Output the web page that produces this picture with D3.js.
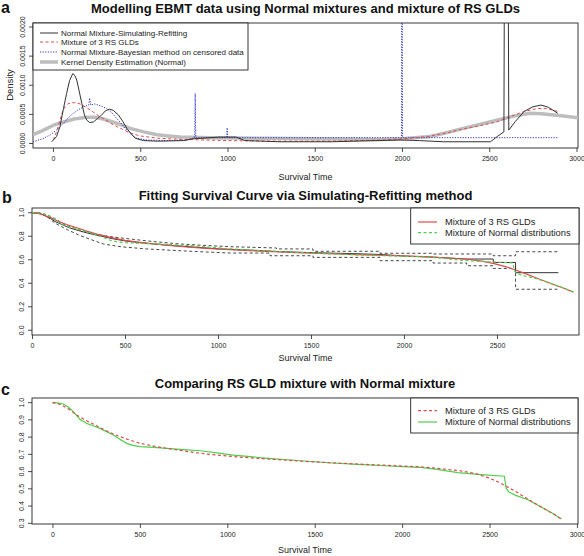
<!DOCTYPE html>
<html><head><meta charset="utf-8">
<script src="https://cdn.jsdelivr.net/npm/d3@7"></script>
<style>
body{margin:0;background:#fff;}
svg{display:block;font-family:"Liberation Sans",Arial,sans-serif;}
</style></head>
<body><svg id="chart" width="584" height="556"></svg>
<script>
// ---------- Panel a : densities ----------
const aXTicks = [0, 500, 1000, 1500, 2000, 2500, 3000];
const aYTicks = [0, 0.0005, 0.001, 0.0015, 0.002];
const aYTickLabels = ["0.0000", "0.0005", "0.0010", "0.0015", "0.0020"];
const aLegend = ["Normal Mixture-Simulating-Refitting", "Mixture of 3 RS GLDs",
  "Normal Mixture-Bayesian method on censored data", "Kernel Density Estimation (Normal)"];

const simRefit = [[-7,0.00003],[20,0.00012],[40,0.00029],[60,0.0006],[78,0.00086],[95,0.00108],[113,0.0012],[125,0.00117],[136,0.00109],[150,0.0009],[165,0.00069],[180,0.00049],[194,0.0004],[210,0.00036],[232,0.00037],[255,0.00043],[279,0.00049],[300,0.00056],[323,0.00059],[345,0.00057],[375,0.00049],[400,0.00038],[423,0.00026],[450,0.00016],[471,0.00009],[519,0.00005],[600,0.00004],[750,0.00005],[800,0.00008],[950,0.00011],[1050,0.00011],[1100,0.00005],[1300,0.00003],[1600,0.00003],[1990,0.00006],[2100,0.00005],[2239,0.00003],[2507,0.00003],[2546,0.00012],[2584,0.0002],[2590,0.006],[2605,0.006],[2612,0.00023],[2650,0.00038],[2700,0.00055],[2750,0.00063],[2797,0.00066],[2840,0.00062],[2892,0.00052]];
const gldDens = [[2,0.00006],[20,0.0002],[40,0.0004],[55,0.00055],[69,0.00063],[85,0.00068],[107,0.0007],[130,0.0007],[155,0.00068],[185,0.00063],[212,0.00058],[240,0.00052],[269,0.00046],[310,0.00039],[346,0.00032],[400,0.00024],[441,0.00018],[500,0.00013],[600,0.00009],[750,0.00007],[1000,0.00005],[1300,0.00004],[1600,0.00004],[1900,0.00006],[2000,0.00008],[2150,0.00012],[2250,0.00018],[2352,0.00025],[2450,0.00031],[2543,0.00037],[2620,0.00046],[2700,0.00055],[2774,0.0006],[2830,0.0006],[2892,0.00055]];
const bayesDens = [[-115,0.00003],[-60,0.00008],[-15,0.00015],[20,0.00023],[61,0.00035],[90,0.00045],[118,0.00052],[145,0.00058],[175,0.00063],[205,0.00066],[210,0.00078],[216,0.00066],[240,0.00068],[270,0.00065],[308,0.0006],[340,0.00052],[365,0.00043],[395,0.00033],[423,0.00023],[450,0.00015],[480,0.00009],[538,0.00006],[650,0.00005],[765,0.00006],[812,0.0001],[815,0.00086],[818,0.0001],[995,0.0001],[998,0.00027],[1001,0.0001],[1997,0.0001],[2000,0.005],[2003,0.0001],[2892,0.0001]];
const kdeDens = [[-115,0.00015],[-60,0.00022],[0,0.00031],[61,0.00037],[120,0.00042],[194,0.00045],[240,0.00045],[289,0.00042],[350,0.00036],[400,0.00031],[442,0.00026],[520,0.0002],[596,0.00015],[660,0.00013],[730,0.00011],[900,0.0001],[1200,0.00009],[1500,0.00008],[1874,0.00007],[2000,0.00008],[2161,0.00012],[2260,0.00019],[2352,0.00026],[2450,0.00033],[2543,0.0004],[2640,0.00047],[2734,0.00052],[2800,0.00051],[2900,0.00048],[3010,0.00044]];

// ---------- Panel b / c : survival ----------
const bXTicks = [0, 500, 1000, 1500, 2000, 2500];
const bYTicks = [0, 0.2, 0.4, 0.6, 0.8, 1.0];
const cXTicks = [0, 500, 1000, 1500, 2000, 2500, 3000];
const cYTicks = [0.3, 0.4, 0.5, 0.6, 0.7, 0.8, 0.9, 1.0];
const survLegendB = ["Mixture of 3 RS GLDs", "Mixture of Normal distributions"];

const gldSurv = [[0,1.0],[30,0.995],[61,0.981],[100,0.958],[138,0.929],[185,0.9],[233,0.876],[290,0.846],[348,0.818],[420,0.79],[501,0.764],[580,0.748],[654,0.735],[750,0.72],[845,0.706],[940,0.696],[1035,0.687],[1200,0.675],[1419,0.661],[1600,0.651],[1744,0.644],[1900,0.637],[2004,0.632],[2107,0.627],[2220,0.617],[2337,0.604],[2420,0.588],[2490,0.565],[2550,0.54],[2595,0.515],[2650,0.484],[2719,0.441],[2800,0.392],[2860,0.358],[2911,0.325]];
const normSurv = [[0,1.0],[30,0.999],[61,0.992],[90,0.975],[109,0.958],[135,0.93],[157,0.903],[195,0.88],[233,0.866],[271,0.851],[310,0.832],[348,0.812],[386,0.787],[424,0.764],[460,0.752],[501,0.745],[580,0.74],[654,0.735],[750,0.728],[845,0.721],[940,0.709],[1035,0.696],[1200,0.68],[1419,0.663],[1600,0.65],[1744,0.642],[1900,0.634],[2004,0.629],[2107,0.625],[2200,0.613],[2318,0.594],[2450,0.583],[2585,0.573],[2595,0.503],[2610,0.482],[2650,0.462],[2719,0.437],[2800,0.392],[2860,0.358],[2911,0.325]];
const refitEst = [[0,1.0],[40,0.995],[70,0.975],[100,0.95],[124,0.925],[160,0.9],[200,0.872],[250,0.848],[300,0.826],[366,0.803],[430,0.78],[500,0.76],[580,0.745],[700,0.728],[850,0.71],[1000,0.693],[1200,0.68],[1315,0.67],[1511,0.66],[1700,0.653],[1871,0.645],[2000,0.632],[2156,0.622],[2337,0.606],[2480,0.606],[2480,0.577],[2600,0.577],[2600,0.49],[2830,0.49]];
const refitUpper = [[0,1.0],[50,0.998],[90,0.975],[124,0.949],[170,0.905],[220,0.872],[258,0.854],[350,0.815],[420,0.797],[491,0.783],[650,0.755],[796,0.734],[950,0.72],[1065,0.711],[1315,0.7],[1315,0.692],[1511,0.692],[1511,0.672],[1871,0.672],[1871,0.655],[2156,0.655],[2156,0.649],[2480,0.649],[2480,0.634],[2600,0.634],[2600,0.668],[2830,0.668]];
const refitLower = [[0,1.0],[50,0.99],[90,0.955],[124,0.911],[190,0.855],[258,0.806],[320,0.77],[383,0.734],[480,0.71],[616,0.692],[850,0.672],[1065,0.657],[1280,0.657],[1280,0.634],[1511,0.634],[1511,0.62],[1871,0.62],[1871,0.592],[2156,0.592],[2156,0.572],[2337,0.572],[2337,0.549],[2480,0.549],[2480,0.526],[2600,0.526],[2600,0.349],[2830,0.349]];

const RED = "#e04a4a", GREEN = "#4fcf4f", BLUE = "#3535c8", GREY = "#bdbdbd", INK = "#222";

const svg = d3.select("#chart");
let clipId = 0;

function panel(opt) {
  const x = d3.scaleLinear().domain(opt.xd).range([opt.l, opt.r]);
  const y = d3.scaleLinear().domain(opt.yd).range([opt.b, opt.t]);
  const id = "clip" + (clipId++);
  svg.append("clipPath").attr("id", id).append("rect")
    .attr("x", opt.l).attr("y", opt.t).attr("width", opt.r - opt.l).attr("height", opt.b - opt.t);
  // x axis
  const xa = svg.append("g").attr("transform", `translate(0,${opt.b})`)
    .call(d3.axisBottom(x).tickValues(opt.xt).tickSize(4).tickPadding(4).tickFormat(d3.format("d")));
  xa.select(".domain").remove();
  xa.selectAll("line").attr("stroke", INK).attr("stroke-width", 0.8);
  xa.selectAll("text").attr("font-size", 7).attr("fill", INK).attr("font-family", "Liberation Sans, Arial, sans-serif");
  // y axis
  const ya = svg.append("g").attr("transform", `translate(${opt.l},0)`)
    .call(d3.axisLeft(y).tickValues(opt.yt).tickSize(4).tickFormat((d, i) => opt.ytl[i]));
  ya.select(".domain").remove();
  ya.selectAll("line").attr("stroke", INK).attr("stroke-width", 0.8);
  ya.selectAll("text").attr("font-size", 7).attr("fill", INK)
    .attr("font-family", "Liberation Sans, Arial, sans-serif")
    .attr("text-anchor", "middle").attr("dy", null).attr("x", null)
    .attr("transform", d => `translate(${opt.ylx - opt.l},${y(d)}) rotate(-90)`)
    .attr("y", 0).attr("dominant-baseline", "central");
  ya.selectAll(".tick").attr("transform", null);
  ya.selectAll(".tick line").attr("transform", d => `translate(0,${y(d)})`);
  // box
  svg.append("rect").attr("x", opt.l).attr("y", opt.t).attr("width", opt.r - opt.l).attr("height", opt.b - opt.t)
    .attr("fill", "none").attr("stroke", INK).attr("stroke-width", 0.9);
  // titles
  svg.append("text").attr("x", (opt.l + opt.r) / 2).attr("y", opt.titleY).attr("text-anchor", "middle")
    .attr("font-weight", "bold").attr("font-size", opt.titleSize).attr("fill", "#111").text(opt.title);
  svg.append("text").attr("x", opt.letterX).attr("y", opt.letterY).attr("font-weight", "bold")
    .attr("font-size", 16).attr("fill", "#111").text(opt.letter);
  svg.append("text").attr("x", (opt.l + opt.r) / 2).attr("y", opt.xlabY).attr("text-anchor", "middle")
    .attr("font-size", 9).attr("fill", INK).text("Survival Time");
  const plot = svg.append("g").attr("clip-path", `url(#${id})`);
  return {x, y, plot};
}

function drawLine(p, data, color, width, dash, opacity) {
  const line = d3.line().x(d => p.x(d[0])).y(d => p.y(d[1]));
  p.plot.append("path").datum(data).attr("d", line).attr("fill", "none")
    .attr("stroke", color).attr("stroke-width", width)
    .attr("stroke-dasharray", dash || null).attr("stroke-opacity", opacity || 1)
    .attr("stroke-linejoin", "round");
}

function legend(x0, y0, x1, y1, rows, items, fs) {
  svg.append("rect").attr("x", x0).attr("y", y0).attr("width", x1 - x0).attr("height", y1 - y0)
    .attr("fill", "#fff").attr("stroke", INK).attr("stroke-width", 0.9);
  items.forEach((it, i) => {
    svg.append("line").attr("x1", it.lx0).attr("x2", it.lx1).attr("y1", rows[i]).attr("y2", rows[i])
      .attr("stroke", it.color).attr("stroke-width", it.width).attr("stroke-dasharray", it.dash || null);
    svg.append("text").attr("x", it.tx).attr("y", rows[i]).attr("dominant-baseline", "central")
      .attr("font-size", fs).attr("fill", INK).text(it.label);
  });
}

// ----- Panel a -----
const pa = panel({l: 33, r: 578, t: 23, b: 148, xd: [-114.6, 3008.6], yd: [-0.0000773, 0.002069],
  xt: aXTicks, yt: aYTicks, ytl: aYTickLabels, ylx: 22.5,
  title: "Modelling EBMT data using Normal mixtures and mixture of RS GLDs", titleY: 13, titleSize: 13,
  letter: "a", letterX: 1, letterY: 13, xlabY: 180});
drawLine(pa, kdeDens, GREY, 3.5);
drawLine(pa, bayesDens, BLUE, 1, "1.2,1.4");
drawLine(pa, gldDens, RED, 1, "3,2.5");
drawLine(pa, simRefit, "#333", 1);
svg.append("text").attr("transform", "translate(9,85) rotate(-90)").attr("text-anchor", "middle")
  .attr("dominant-baseline", "central").attr("font-size", 9.5).attr("fill", INK).text("Density");
legend(33, 23, 248, 70, [33, 42, 52, 62], [
  {label: aLegend[0], color: "#333", width: 1, lx0: 40, lx1: 58, tx: 61},
  {label: aLegend[1], color: RED, width: 1, dash: "3,2.5", lx0: 40, lx1: 58, tx: 61},
  {label: aLegend[2], color: BLUE, width: 1, dash: "1.2,1.4", lx0: 40, lx1: 58, tx: 61},
  {label: aLegend[3], color: GREY, width: 3.5, lx0: 40, lx1: 58, tx: 61}], 8);

// ----- Panel b -----
const pb = panel({l: 32, r: 579, t: 208, b: 335, xd: [0, 2941], yd: [-0.04, 1.04],
  xt: bXTicks, yt: bYTicks, ytl: bYTicks.map(d => d.toFixed(1)), ylx: 21.7,
  title: "Fitting Survival Curve via Simulating-Refitting method", titleY: 200, titleSize: 13,
  letter: "b", letterX: 2, letterY: 203, xlabY: 361});
drawLine(pb, refitUpper, "#333", 0.9, "3,2.5");
drawLine(pb, refitLower, "#333", 0.9, "3,2.5");
drawLine(pb, refitEst, "#333", 1);
drawLine(pb, gldSurv, RED, 1.2);
drawLine(pb, normSurv, GREEN, 1.2, "3,2.5");
legend(410.7, 208, 579, 244, [222, 232.7], [
  {label: survLegendB[0], color: RED, width: 1.2, lx0: 418, lx1: 437, tx: 445},
  {label: survLegendB[1], color: GREEN, width: 1.2, dash: "3,2.5", lx0: 418, lx1: 437, tx: 445}], 9.3);

// ----- Panel c -----
const pc = panel({l: 32, r: 578, t: 398, b: 524, xd: [-117, 3006], yd: [0.296, 1.027],
  xt: cXTicks, yt: cYTicks, ytl: cYTicks.map(d => d.toFixed(1)), ylx: 21.7,
  title: "Comparing RS GLD mixture with Normal mixture", titleY: 388, titleSize: 13,
  letter: "c", letterX: 1, letterY: 395, xlabY: 553});
drawLine(pc, normSurv, GREEN, 1.2);
drawLine(pc, gldSurv, RED, 1.2, "3,2.5");
legend(410.7, 398, 578, 433, [410.7, 422], [
  {label: survLegendB[0], color: RED, width: 1.2, dash: "3,2.5", lx0: 418, lx1: 437, tx: 445},
  {label: survLegendB[1], color: GREEN, width: 1.2, lx0: 418, lx1: 437, tx: 445}], 9.3);
</script></body></html>
